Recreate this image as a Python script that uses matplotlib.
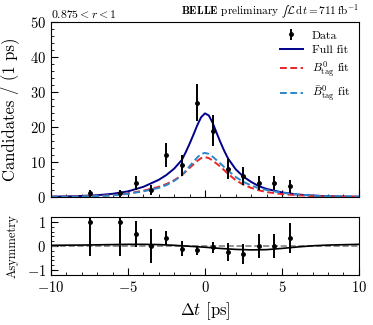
import matplotlib
matplotlib.use("Agg")
import matplotlib.pyplot as plt
from matplotlib.ticker import MultipleLocator

plt.rcParams['font.family'] = 'serif'
plt.rcParams['font.serif'] = ['cmr10', 'DejaVu Serif']
plt.rcParams['mathtext.fontset'] = 'cm'
plt.rcParams['axes.formatter.use_mathtext'] = True
plt.rcParams['axes.unicode_minus'] = True

# data points (bin centres, counts)
dt_bins = [-7.5, -5.5, -4.5, -3.5, -2.5, -1.5, -0.5, 0.5, 1.5, 2.5, 3.5, 4.5, 5.5]
counts = [1, 1, 4, 2, 12, 9, 27, 19, 8, 6, 4, 4, 3]
count_err = [1.0, 1.0, 2.0, 1.41, 3.46, 3.0, 5.2, 4.36, 2.83, 2.45, 2.0, 2.0, 1.73]

# asymmetry per bin
asym = [1.0, 1.0, 0.5, 0.0, 0.333, -0.111, -0.185, -0.053, -0.25, -0.333, 0.0, 0.0, 0.333]
asym_err = [1.43, 1.43, 0.55, 0.71, 0.29, 0.32, 0.17, 0.23, 0.37, 0.42, 0.5, 0.5, 0.62]

# fit curves
t_full = [-10, -9, -8, -7, -6, -5, -4, -3, -2.5, -2, -1.5, -1.25, -1, -0.75, -0.5, -0.25, 0,
          0.25, 0.5, 0.75, 1, 1.25, 1.5, 2, 2.5, 3, 3.5, 4, 5, 6, 7, 8, 9, 10]
full_fit = [0.1, 0.15, 0.3, 0.5, 0.9, 1.6, 2.9, 4.9, 6.3, 8.1, 10.6, 12.8, 15.2, 17.8, 20.5, 22.8, 23.9,
            23.3, 21.2, 18.4, 15.7, 13.2, 11.0, 7.9, 5.8, 4.3, 3.1, 2.3, 1.3, 0.7, 0.4, 0.2, 0.12, 0.08]

t_comp = [-10, -8, -7, -6, -5, -4, -3, -2.5, -2, -1.5, -1, -0.5, -0.25, 0, 0.25, 0.5, 1,
          1.5, 2, 2.5, 3, 3.5, 4, 5, 6, 7, 8, 10]
b0bar_fit = [0.05, 0.15, 0.25, 0.45, 0.9, 1.6, 2.6, 3.4, 4.6, 6.2, 8.8, 11.3, 12.3, 12.6, 12.3, 11.5, 9.6,
             7.5, 5.7, 4.3, 3.3, 2.5, 2.0, 1.2, 0.7, 0.4, 0.2, 0.07]
b0_fit = [0.05, 0.2, 0.3, 0.5, 1.0, 1.8, 2.9, 3.7, 4.8, 6.2, 8.3, 10.3, 11.1, 11.4, 11.1, 10.4, 8.7,
          6.6, 4.8, 3.5, 2.6, 1.9, 1.4, 0.8, 0.5, 0.25, 0.12, 0.04]

t_asym = [-10, -8, -6, -5, -4, -3, -2, -1, 0, 1, 2, 3, 4, 5, 6, 7, 8, 10]
asym_fit = [0.03, 0.04, 0.06, 0.07, 0.07, 0.06, 0.03, -0.01, -0.05, -0.10, -0.14, -0.16, -0.15,
            -0.10, -0.04, 0.01, 0.04, 0.07]

fig = plt.figure(figsize=(3.73, 3.25), dpi=100)
ax = fig.add_axes([0.137, 0.394, 0.825, 0.538])
axr = fig.add_axes([0.137, 0.154, 0.825, 0.178], sharex=ax)

h_data = ax.errorbar(dt_bins, counts, yerr=count_err, fmt='o', color='black', ms=2.5,
                     elinewidth=1.4, capsize=0, label='Data', zorder=5)
h_full, = ax.plot(t_full, full_fit, color='#00008b', lw=1.4, label='Full fit')
h_b0, = ax.plot(t_comp, b0_fit, color='#e8262a', lw=1.4, ls=(0, (3.5, 1.8)),
                label=r'$B^0_{\rm tag}$ fit')
h_b0bar, = ax.plot(t_comp, b0bar_fit, color='#2e86c8', lw=1.4, ls=(0, (3.5, 1.8)),
                   label=r'$\bar{B}^0_{\rm tag}$ fit')

ax.set_xlim(-10, 10)
ax.set_ylim(0, 50)
ax.set_ylabel('Candidates / (1 ps)', fontsize=12)
ax.yaxis.set_major_locator(MultipleLocator(10))
ax.yaxis.set_minor_locator(MultipleLocator(2))
ax.xaxis.set_major_locator(MultipleLocator(5))
ax.xaxis.set_minor_locator(MultipleLocator(1))
ax.tick_params(which='both', direction='in', labelsize=10.5)
ax.tick_params(which='major', length=5)
ax.tick_params(which='minor', length=2.5)
plt.setp(ax.get_xticklabels(), visible=False)

ax.legend([h_data, h_full, h_b0, h_b0bar],
          ['Data', 'Full fit', r'$B^0_{\rm tag}$ fit', r'$\bar{B}^0_{\rm tag}$ fit'],
          loc='upper right', frameon=False, fontsize=8.5, handlelength=1.9,
          labelspacing=0.35, borderaxespad=0.3)

ax.text(0.0, 1.012, r'$0.875 < r < 1$', transform=ax.transAxes, fontsize=8.5,
        ha='left', va='bottom')
lumi = ax.text(1.0, 1.012,
               r'$\mathbf{BELLE}$ preliminary $∫\mathcal{L}\,\mathrm{d}t = 711\,\mathrm{fb}^{-1}$',
               transform=ax.transAxes, fontsize=8.1, ha='right', va='bottom')

axr.axhline(0, color='gray', ls='--', lw=1.2)
axr.plot(t_asym, asym_fit, color='black', lw=1.2)
axr.errorbar(dt_bins, asym, yerr=asym_err, fmt='o', color='black', ms=2.5,
             elinewidth=1.4, capsize=0, zorder=5)
axr.set_ylim(-1.2, 1.2)
axr.set_ylabel('Asymmetry', fontsize=9)
axr.set_xlabel(r'$\Delta t$ [ps]', fontsize=12)
axr.yaxis.set_major_locator(MultipleLocator(1))
axr.yaxis.set_minor_locator(MultipleLocator(0.2))
axr.tick_params(which='both', direction='in', labelsize=10.5)
axr.tick_params(which='major', length=5)
axr.tick_params(which='minor', length=2.5)

ax.yaxis.set_label_coords(-0.105, 0.5)
axr.yaxis.set_label_coords(-0.105, 0.5)

try:
    fig.savefig('out.png', dpi=100)
except Exception:
    lumi.set_text(r'$\mathbf{BELLE}$ preliminary $\mathcal{L}\,\mathrm{d}t = 711\,\mathrm{fb}^{-1}$')
    fig.savefig('out.png', dpi=100)
